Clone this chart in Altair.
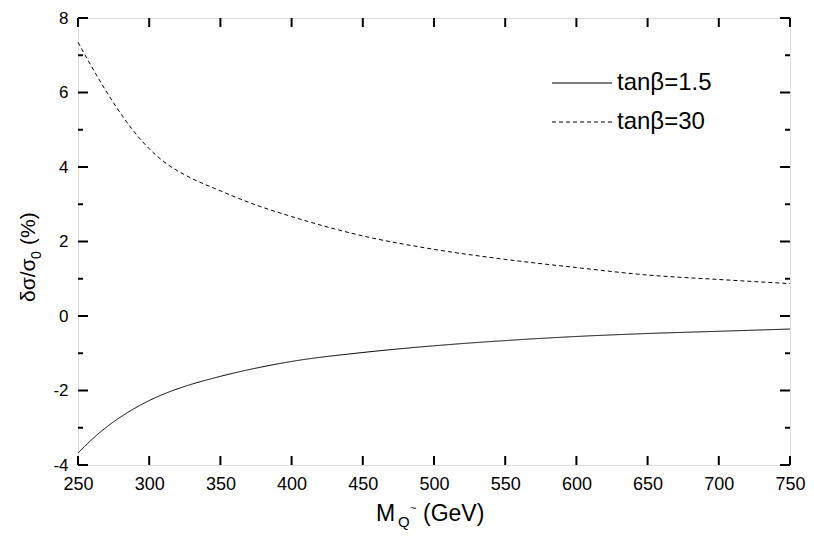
import altair as alt
import pandas as pd

# ---- data ----
mass = [250, 262.5, 275, 287.5, 300, 312.5, 325, 350, 375, 400, 450, 500, 550, 600, 650, 700, 750]
tb_1p5 = [-3.68, -3.22, -2.84, -2.53, -2.27, -2.06, -1.89, -1.62, -1.40, -1.22, -0.98, -0.80, -0.66, -0.55, -0.47, -0.41, -0.35]
tb_30 = [7.35, 6.50, 5.72, 5.04, 4.49, 4.08, 3.79, 3.36, 2.98, 2.67, 2.15, 1.79, 1.52, 1.30, 1.10, 0.98, 0.87]
series_names = ["tanβ=1.5", "tanβ=30"]

x_ticks = [250, 300, 350, 400, 450, 500, 550, 600, 650, 700, 750]
y_major = [-4, -2, 0, 2, 4, 6, 8]
y_minor = [-3, -1, 1, 3, 5, 7]

W, H = 712, 447
FONT = "Liberation Sans"

rows = []
for m, a, b in zip(mass, tb_1p5, tb_30):
    rows.append({"m": m, "v": a, "s": series_names[0]})
    rows.append({"m": m, "v": b, "s": series_names[1]})
df = pd.DataFrame(rows)

xscale = alt.Scale(domain=[250, 750], nice=False, zero=False)
yscale = alt.Scale(domain=[-4, 8], nice=False, zero=False)
dash_scale = alt.Scale(domain=series_names, range=[[1, 0], [4, 3]])
xaxis = alt.Axis(values=x_ticks, title=None, ticks=False, domain=False, grid=False, labelFlush=False,
                 labelFontSize=18, labelPadding=10, labelExpr="'' + datum.value")
yaxis = alt.Axis(values=y_major, title=None, ticks=False, domain=False, grid=False, labelFlush=False,
                 labelFontSize=17, labelPadding=10, labelExpr="'' + datum.value")

lines = alt.Chart(df).mark_line(color="black", strokeWidth=1, interpolate="monotone").encode(
    x=alt.X("m:Q", scale=xscale, axis=xaxis),
    y=alt.Y("v:Q", scale=yscale, axis=yaxis),
    strokeDash=alt.StrokeDash("s:N", scale=dash_scale, legend=None),
    detail="s:N",
)

xt = pd.DataFrame({"t": x_ticks})
ymj = pd.DataFrame({"t": y_major})
ymn = pd.DataFrame({"t": y_minor})

def xtick(y0, y1):
    return alt.Chart(xt).mark_rule(color="black", strokeWidth=2).encode(
        x=alt.X("t:Q", scale=xscale, axis=xaxis), y=alt.value(y0), y2=alt.value(y1))

def ytick(d, x0, x1):
    return alt.Chart(d).mark_rule(color="black", strokeWidth=2).encode(
        y=alt.Y("t:Q", scale=yscale, axis=yaxis), x=alt.value(x0), x2=alt.value(x1))

ticks = [
    xtick(H, H - 9), xtick(0, 9),
    ytick(ymj, 0, 10), ytick(ymn, 0, 5),
    ytick(ymj, W, W - 10), ytick(ymn, W, W - 5),
]

def txt(s, x, y, size, angle=0, align="left", baseline="alphabetic"):
    return alt.Chart(pd.DataFrame({"t": [s]})).mark_text(
        font=FONT, fontSize=size, color="black", align=align, baseline=baseline, angle=angle
    ).encode(x=alt.value(x), y=alt.value(y), text="t:N")

# legend
leg_items = []
for name, yy in zip(series_names, [65, 104]):
    d = pd.DataFrame({"s": [name]})
    leg_items.append(
        alt.Chart(d).mark_rule(color="black", strokeWidth=1).encode(
            x=alt.value(474), x2=alt.value(534), y=alt.value(yy),
            strokeDash=alt.StrokeDash("s:N", scale=dash_scale, legend=None),
        )
    )
    leg_items.append(txt(name, 539, yy, 24, baseline="middle"))

titles = [
    # x title: M_Q~ (GeV)
    txt("M", 298, 503, 23),
    txt("Q", 320, 509, 15),
    txt("~", 332, 494, 11),
    txt("(GeV)", 345, 503, 23),
    # y title: δσ/σ0 (%)
    txt("δσ/σ", -43, 284, 21, angle=270),
    txt("0", -37, 241, 14, angle=270),
    txt("(%)", -43, 227, 21, angle=270),
]

chart = alt.layer(lines, *ticks, *leg_items, *titles).properties(
    width=W, height=H,
    autosize=alt.AutoSizeParams(type="none"),
    padding={"left": 70, "top": 10, "right": 16, "bottom": 67},
).configure_view(stroke="black", strokeWidth=2).configure_axis(
    labelFont=FONT, labelColor="black"
).configure(background="white")

chart.save("out.html", embed_options={"renderer": "svg", "actions": False})
